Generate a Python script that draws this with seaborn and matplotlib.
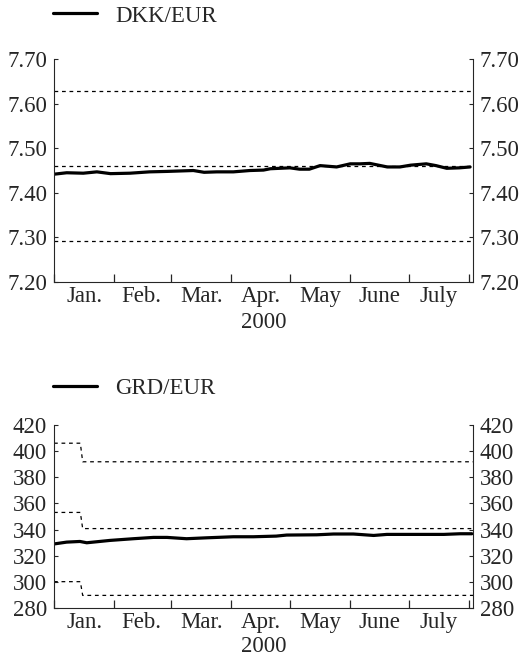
import matplotlib
matplotlib.use("Agg")
import matplotlib.pyplot as plt
import seaborn as sns

# exchange rates 2000, x = day of year (Jan 1 = 0)
dkk_day = [0.5, 6.5, 15, 22, 29, 39, 49, 58, 71.5, 77, 83.5, 92, 100.5, 107.5, 111,
           121, 126, 131, 136.5, 145, 152, 157, 162, 171, 177.5, 183, 191, 196,
           201.5, 208, 213.5]
dkk_rate = [7.442, 7.445, 7.444, 7.447, 7.443, 7.444, 7.447, 7.448, 7.450, 7.446,
            7.447, 7.447, 7.450, 7.451, 7.454, 7.456, 7.453, 7.453, 7.461, 7.458,
            7.465, 7.465, 7.466, 7.458, 7.458, 7.462, 7.465, 7.461, 7.455, 7.456,
            7.458]
dkk_band_day = [0, 215]
dkk_upper = [7.62824, 7.62824]
dkk_central = [7.46038, 7.46038]
dkk_lower = [7.29252, 7.29252]

grd_day = [0.5, 6.5, 13.3, 16.8, 28.7, 40.7, 51, 58, 68, 78.4, 92, 102.3, 114,
           119.4, 134.8, 143.4, 153.6, 164, 170.8, 186, 200, 208.4, 214.4]
grd_rate = [329.1, 330.4, 330.9, 329.9, 331.7, 333.0, 334.0, 334.0, 333.0, 333.7,
            334.5, 334.5, 335.0, 335.8, 336.0, 336.6, 336.6, 335.5, 336.3, 336.3,
            336.3, 336.8, 336.8]
grd_band_day = [0, 13.5, 14.7, 215]
grd_upper = [406.075, 406.075, 391.863, 391.863]
grd_central = [353.109, 353.109, 340.750, 340.750]
grd_lower = [300.143, 300.143, 289.638, 289.638]

month_starts = [0, 31, 60, 91, 121, 152, 182, 213]
quarter_starts = [91, 182]
month_mids = [15.5, 45, 75.5, 106, 136.5, 167, 197.5]
month_labels = ["Jan.", "Feb.", "Mar.", "Apr.", "May", "June", "July"]

sns.set_style("ticks")
plt.rcParams["font.family"] = ["Liberation Serif", "DejaVu Serif"]
plt.rcParams["font.size"] = 16.5

fig = plt.figure(figsize=(5.26, 6.58), dpi=100)
ax1 = fig.add_axes([0.1027, 0.5714, 0.7966, 0.3389])
ax2 = fig.add_axes([0.1027, 0.0760, 0.7966, 0.2781])


def draw_panel(ax, day, rate, name, band_day, bands, ylim, yticks, fmt, legend_y, year_off):
    for b in bands:
        sns.lineplot(x=band_day, y=b, ax=ax, color="black", lw=0.9,
                     linestyle=(0, (3, 3)), legend=False, sort=False)
    sns.lineplot(x=day, y=rate, ax=ax, color="black", lw=2.3, label=name)
    ax.set_xlim(0, 215)
    ax.set_ylim(*ylim)
    ax.set_yticks(yticks)
    ax.set_yticklabels([fmt.format(v) for v in yticks])
    # month boundaries as major ticks, quarter boundaries as longer minor ticks
    ax.set_xticks(month_starts)
    ax.set_xticklabels([])
    ax.set_xticks(quarter_starts, minor=True)
    ax.tick_params(axis="x", which="major", direction="in", length=6, width=0.9)
    ax.tick_params(axis="x", which="minor", direction="in", length=9, width=1.6)
    ax.tick_params(axis="y", direction="in", length=3, width=0.8,
                   left=True, right=True, labelleft=True, labelright=True, pad=5)
    trans = ax.get_xaxis_transform()
    for m, lab in zip(month_mids, month_labels):
        ax.text(m, -0.02, lab, transform=trans, ha="center", va="top")
    for s in ["left", "right", "bottom"]:
        ax.spines[s].set_linewidth(0.8)
    ax.spines["top"].set_visible(False)
    ax.set_xlabel("")
    ax.set_ylabel("")
    ax.text(0.5, -year_off / (ax.get_position().height * 658), "2000",
            transform=ax.transAxes, ha="center", va="top")
    ax.legend(loc="center left", bbox_to_anchor=(-0.003, legend_y), frameon=False,
              handlelength=1.92, handletextpad=0.79, borderpad=0, borderaxespad=0)


draw_panel(ax1, dkk_day, dkk_rate, "DKK/EUR", dkk_band_day,
           [dkk_upper, dkk_central, dkk_lower], (7.20, 7.70),
           [7.20, 7.30, 7.40, 7.50, 7.60, 7.70], "{:.2f}", 1.193, 30)
draw_panel(ax2, grd_day, grd_rate, "GRD/EUR", grd_band_day,
           [grd_upper, grd_central, grd_lower], (280, 420),
           list(range(280, 421, 20)), "{:d}", 1.197, 28)

fig.savefig("out.png", dpi=100)
